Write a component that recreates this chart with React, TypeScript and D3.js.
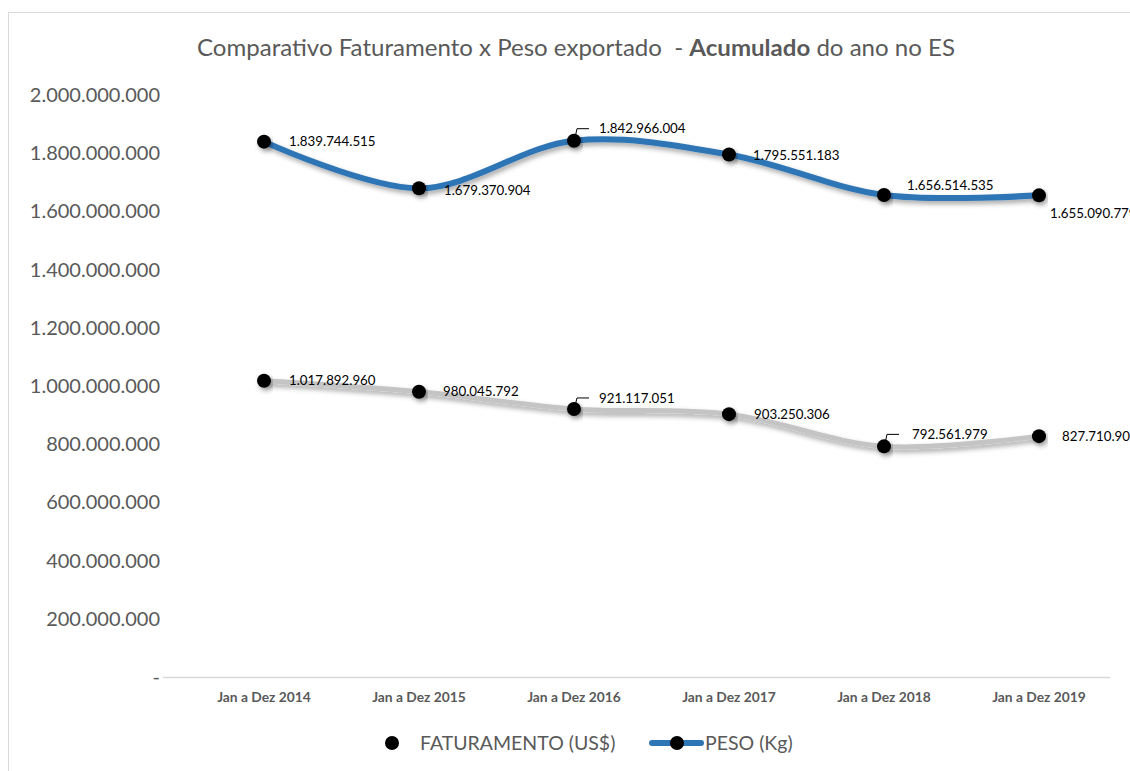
import React from "react";
import * as d3 from "d3";

const categories = ["Jan a Dez 2014", "Jan a Dez 2015", "Jan a Dez 2016", "Jan a Dez 2017", "Jan a Dez 2018", "Jan a Dez 2019"];
const faturamento = [1017892960, 980045792, 921117051, 903250306, 792561979, 827710904];
const peso = [1839744515, 1679370904, 1842966004, 1795551183, 1656514535, 1655090779];
const yTicks = [0, 200000000, 400000000, 600000000, 800000000, 1000000000, 1200000000, 1400000000, 1600000000, 1800000000, 2000000000];
// label placement offsets (dx, dy) relative to point, and whether to draw leader line
const pesoLabelPos: [number, number, boolean][] = [[25, 0, false], [25, 2, false], [25, -12, true], [24, 1, false], [23, -10, false], [11, 18, false]];
const fatLabelPos: [number, number, boolean][] = [[25, 0, false], [24, 0, false], [25, -11, true], [25, 0, false], [28, -12, true], [23, 0, false]];

const fmt = (v: number) => (v === 0 ? "-" : d3.format(",")(v).replace(/,/g, "."));

export default function App() {
  const W = 1130, H = 771;
  const x = d3.scaleBand<string>().domain(categories).range([186.5, 1116.5]);
  const y = d3.scaleLinear().domain([0, 2000000000]).range([677, 95]);
  const cx = (c: string) => (x(c) as number) + x.bandwidth() / 2;
  const line = d3.line<number>().x((_, i) => cx(categories[i])).y((d) => y(d)).curve(d3.curveCatmullRom.alpha(0.5));
  const font = "Lato, 'Open Sans', sans-serif";
  const gray = "#595959";

  return (
    <div style={{ position: "absolute", left: 0, top: 0, width: W, height: H, overflow: "hidden" }}>
      <svg width={W} height={H} style={{ display: "block", background: "#fff" }} fontFamily={font}>
        <defs>
          <filter id="sh" x="-10%" y="-50%" width="120%" height="200%">
            <feDropShadow dx="2" dy="3" stdDeviation="2.5" floodColor="#000" floodOpacity="0.35" />
          </filter>
        </defs>
        <rect x={8.5} y={12.5} width={1200} height={900} fill="#fff" stroke="#d9d9d9" strokeWidth={1} />
        <text x={576} y={56} textAnchor="middle" fontSize={23} fill={gray} textLength={758} lengthAdjust="spacingAndGlyphs">
          Comparativo Faturamento x Peso exportado{"\u00a0"} - <tspan fontWeight="bold">Acumulado</tspan> do ano no ES
        </text>
        {yTicks.map((t) => (
          <text key={t} x={160} y={y(t)} dy="0.35em" textAnchor="end" fontSize={20} fill={gray}>
            {fmt(t)}
          </text>
        ))}
        <line x1={163} x2={1110} y1={y(0) + 0.5} y2={y(0) + 0.5} stroke="#d9d9d9" strokeWidth={1.5} />
        {categories.map((c) => (
          <text key={c} x={cx(c)} y={697} dy="0.35em" textAnchor="middle" fontSize={13.8} fontWeight="bold" fill={gray}>
            {c}
          </text>
        ))}
        <path d={line(faturamento) || ""} fill="none" stroke="#c4c4c4" strokeWidth={5} filter="url(#sh)" />
        <path d={line(peso) || ""} fill="none" stroke="#2e75b6" strokeWidth={6} filter="url(#sh)" />
        {[faturamento, peso].map((s, si) =>
          s.map((v, i) => (
            <circle key={si + "-" + i} cx={cx(categories[i])} cy={y(v)} r={7} fill="#000" filter="url(#sh)" />
          ))
        )}
        {[[peso, pesoLabelPos], [faturamento, fatLabelPos]].map(([s, pos]: any, si) =>
          (s as number[]).map((v, i) => {
            const px = cx(categories[i]), py = y(v);
            const [dx, dy, leader] = pos[i];
            return (
              <g key={"l" + si + "-" + i}>
                {leader && (
                  <polyline points={`${px + 1},${py - 3} ${px + 3},${py + dy} ${px + 15},${py + dy}`} fill="none" stroke="#000" strokeWidth={1} />
                )}
                <text x={px + dx} y={py + dy} dy="0.35em" fontSize={13.3} fill="#000">
                  {fmt(v)}
                </text>
              </g>
            );
          })
        )}
        {/* legend */}
        <circle cx={392} cy={743} r={7} fill="#000" />
        <text x={420} y={743} dy="0.35em" fontSize={19.5} fill={gray}>FATURAMENTO (US$)</text>
        <line x1={652} x2={701} y1={743} y2={743} stroke="#2e75b6" strokeWidth={6} strokeLinecap="round" />
        <circle cx={677} cy={743} r={7} fill="#000" />
        <text x={705} y={743} dy="0.35em" fontSize={19.5} fill={gray}>PESO (Kg)</text>
      </svg>
    </div>
  );
}
